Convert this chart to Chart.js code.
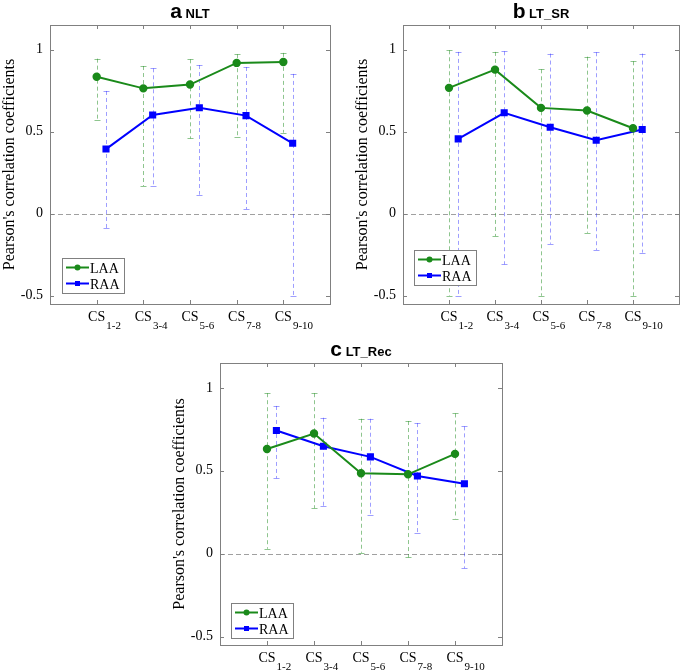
<!DOCTYPE html>
<html>
<head>
<meta charset="utf-8">
<script src="https://cdn.jsdelivr.net/npm/chart.js@4.4.1/dist/chart.umd.min.js"></script>
<style>
  html, body { margin: 0; padding: 0; background: #fff; overflow: hidden; }
  body { width: 685px; height: 672px; position: relative; }
  canvas { position: absolute; }
</style>
</head>
<body>
<canvas id="chartA" width="340" height="335" style="left:0;top:0"></canvas>
<canvas id="chartB" width="332" height="335" style="left:353px;top:0"></canvas>
<canvas id="chartC" width="340" height="342" style="left:170px;top:330px"></canvas>
<script>
// x categories (CS pairs) and y ticks
const categories = ['1-2', '3-4', '5-6', '7-8', '9-10'];
const yTicks = [-0.5, 0, 0.5, 1];

// a NLT
const nltLAA = [0.835, 0.764, 0.787, 0.919, 0.925];
const nltLAALow = [0.571, 0.169, 0.459, 0.467, 0.494];
const nltLAAHigh = [0.945, 0.900, 0.941, 0.972, 0.980];
const nltRAA = [0.394, 0.602, 0.646, 0.598, 0.429];
const nltRAALow = [-0.087, 0.169, 0.116, 0.028, -0.502];
const nltRAAHigh = [0.748, 0.886, 0.906, 0.894, 0.852];

// b LT_SR
const srLAA = [0.767, 0.878, 0.645, 0.629, 0.521];
const srLAALow = [-0.50, -0.136, -0.50, -0.116, -0.50];
const srLAAHigh = [0.996, 0.986, 0.880, 0.957, 0.929];
const srRAA = [0.456, 0.615, 0.527, 0.448, 0.513];
const srRAALow = [-0.50, -0.308, -0.183, -0.221, -0.237];
const srRAAHigh = [0.986, 0.990, 0.976, 0.984, 0.976];

// c LT_Rec
const recLAA = [0.632, 0.725, 0.485, 0.479, 0.602];
const recLAALow = [0.030, 0.275, 0.006, -0.022, 0.212];
const recLAAHigh = [0.968, 0.968, 0.814, 0.800, 0.846];
const recRAA = [0.743, 0.648, 0.584, 0.469, 0.422];
const recRAALow = [0.455, 0.285, 0.232, 0.127, -0.087];
const recRAAHigh = [0.891, 0.820, 0.814, 0.788, 0.768];

const GREEN = '#1a8a1a';
const BLUE = '#0000ff';
const GREEN_ERR = 'rgba(30,140,30,0.5)';
const BLUE_ERR = 'rgba(40,40,255,0.45)';
const RAA_SHIFT = 0.2;
const SERIF = '"Liberation Serif", "Times New Roman", serif';
const SANS = '"Liberation Sans", Arial, sans-serif';

// draws box, inward ticks, zero line, error bars, CS labels, title and legend
const panelPlugin = {
  id: 'panel',
  beforeDatasetsDraw(chart, args, opts) {
    const ctx = chart.ctx;
    const ca = chart.chartArea;
    const xs = chart.scales.x, ys = chart.scales.y;
    ctx.save();
    // zero line
    ctx.strokeStyle = '#a0a0a0';
    ctx.lineWidth = 1;
    ctx.setLineDash([5, 3]);
    const y0 = Math.round(ys.getPixelForValue(0)) + 0.5;
    ctx.beginPath();
    ctx.moveTo(ca.left, y0);
    ctx.lineTo(ca.right, y0);
    ctx.stroke();
    // error bars
    const bars = [
      [opts.laaLow, opts.laaHigh, 0, GREEN_ERR],
      [opts.raaLow, opts.raaHigh, RAA_SHIFT, BLUE_ERR]
    ];
    bars.forEach(([lo, hi, shift, col]) => {
      ctx.strokeStyle = col;
      lo.forEach((l, i) => {
        const x = Math.round(xs.getPixelForValue(i + 1 + shift)) + 0.5;
        const yl = ys.getPixelForValue(l);
        const yh = ys.getPixelForValue(hi[i]);
        ctx.setLineDash([4, 3]);
        ctx.beginPath();
        ctx.moveTo(x, yh);
        ctx.lineTo(x, yl);
        ctx.stroke();
        ctx.setLineDash([]);
        ctx.beginPath();
        ctx.moveTo(x - 3, Math.round(yh) + 0.5);
        ctx.lineTo(x + 3, Math.round(yh) + 0.5);
        ctx.moveTo(x - 3, Math.round(yl) + 0.5);
        ctx.lineTo(x + 3, Math.round(yl) + 0.5);
        ctx.stroke();
      });
    });
    ctx.restore();
  },
  afterDraw(chart, args, opts) {
    const ctx = chart.ctx;
    const ca = chart.chartArea;
    const xs = chart.scales.x, ys = chart.scales.y;
    ctx.save();
    // box
    ctx.strokeStyle = '#808080';
    ctx.lineWidth = 1;
    ctx.setLineDash([]);
    ctx.strokeRect(Math.round(ca.left) + 0.5, Math.round(ca.top) + 0.5,
      Math.round(ca.right - ca.left), Math.round(ca.bottom - ca.top));
    ctx.beginPath();
    yTicks.forEach(v => {
      const y = Math.round(ys.getPixelForValue(v)) + 0.5;
      ctx.moveTo(ca.left, y); ctx.lineTo(ca.left + 4, y);
      ctx.moveTo(ca.right, y); ctx.lineTo(ca.right - 4, y);
    });
    categories.forEach((c, i) => {
      const x = Math.round(xs.getPixelForValue(i + 1)) + 0.5;
      ctx.moveTo(x, ca.bottom); ctx.lineTo(x, ca.bottom - 4);
      ctx.moveTo(x, ca.top); ctx.lineTo(x, ca.top + 4);
    });
    ctx.stroke();

    // CS labels with subscripts
    ctx.fillStyle = '#000';
    ctx.textAlign = 'left';
    ctx.textBaseline = 'alphabetic';
    categories.forEach((c, i) => {
      const x = xs.getPixelForValue(i + 1);
      ctx.font = '14px ' + SERIF;
      const w = ctx.measureText('CS').width;
      ctx.fillText('CS', x - w / 2, ca.bottom + 17);
      ctx.font = '11px ' + SERIF;
      ctx.fillText(c, x + w / 2 + 1, ca.bottom + 25);
    });

    // title
    ctx.font = 'bold 21px ' + SANS;
    const w1 = ctx.measureText(opts.letter).width;
    ctx.font = 'bold 13px ' + SANS;
    const w2 = ctx.measureText(' ' + opts.name).width;
    const tx = (ca.left + ca.right) / 2 - (w1 + w2) / 2;
    const ty = ca.top - 7;
    ctx.font = 'bold 21px ' + SANS;
    ctx.fillText(opts.letter, tx, ty);
    ctx.font = 'bold 13px ' + SANS;
    ctx.fillText(' ' + opts.name, tx + w1, ty);

    // legend
    const lx = ca.left + opts.legendX;
    const ly = ca.bottom - opts.legendY - 35;
    ctx.fillStyle = '#fff';
    ctx.fillRect(lx, ly, 62, 35);
    ctx.strokeStyle = '#808080';
    ctx.strokeRect(Math.round(lx) + 0.5, Math.round(ly) + 0.5, 62, 35);
    chart.data.datasets.forEach((ds, k) => {
      const ry = ly + 9.5 + k * 16;
      ctx.strokeStyle = ds.borderColor;
      ctx.lineWidth = 2;
      ctx.beginPath();
      ctx.moveTo(lx + 4, ry);
      ctx.lineTo(lx + 27, ry);
      ctx.stroke();
      ctx.fillStyle = ds.borderColor;
      ctx.beginPath();
      if (ds.pointStyle === 'circle') {
        ctx.arc(lx + 15.5, ry, 3, 0, Math.PI * 2);
      } else {
        ctx.rect(lx + 13, ry - 2.5, 5, 5);
      }
      ctx.fill();
      ctx.fillStyle = '#000';
      ctx.font = '14px ' + SERIF;
      ctx.fillText(ds.label, lx + 28, ry + 5);
    });
    ctx.restore();
  }
};

function makePanel(id, letter, name, laa, laaLow, laaHigh, raa, raaLow, raaHigh, pad, xHeight, legendX, legendY) {
  return new Chart(document.getElementById(id), {
    type: 'line',
    data: {
      datasets: [{
        label: 'LAA',
        data: laa.map((v, i) => ({ x: i + 1, y: v })),
        borderColor: GREEN,
        backgroundColor: GREEN,
        borderWidth: 2,
        pointStyle: 'circle',
        pointRadius: 3.2,
        tension: 0
      }, {
        label: 'RAA',
        data: raa.map((v, i) => ({ x: i + 1 + RAA_SHIFT, y: v })),
        borderColor: BLUE,
        backgroundColor: BLUE,
        borderWidth: 2,
        pointStyle: 'rect',
        pointRadius: 3.6,
        tension: 0
      }]
    },
    options: {
      responsive: false,
      animation: false,
      devicePixelRatio: 1,
      layout: { padding: { top: pad.top, right: pad.right, left: 0, bottom: 0 } },
      plugins: {
        legend: { display: false },
        tooltip: { enabled: false },
        panel: { letter, name, laaLow, laaHigh, raaLow, raaHigh, legendX, legendY }
      },
      scales: {
        x: {
          type: 'linear',
          min: 0,
          max: 6,
          grid: { display: false, drawTicks: false },
          border: { display: false },
          ticks: { display: false },
          afterBuildTicks: axis => { axis.ticks = categories.map((c, i) => ({ value: i + 1 })); },
          afterFit: axis => { axis.height = xHeight; }
        },
        y: {
          min: -0.55,
          max: 1.15,
          grid: { display: false, drawTicks: false },
          border: { display: false },
          afterBuildTicks: axis => { axis.ticks = yTicks.map(v => ({ value: v })); },
          ticks: {
            color: '#000',
            padding: 7,
            font: { family: SERIF, size: 14 },
            callback: v => String(v)
          },
          title: {
            display: true,
            text: "Pearson's correlation coefficients",
            color: '#000',
            font: { family: SERIF, size: 16 },
            padding: { top: 0, bottom: 0 }
          },
          afterFit: axis => { axis.width = 50; }
        }
      }
    },
    plugins: [panelPlugin]
  });
}

makePanel('chartA', 'a', 'NLT', nltLAA, nltLAALow, nltLAAHigh, nltRAA, nltRAALow, nltRAAHigh,
  { top: 25, right: 10 }, 31, 12, 11);
makePanel('chartB', 'b', 'LT_SR', srLAA, srLAALow, srLAAHigh, srRAA, srRAALow, srRAAHigh,
  { top: 25, right: 2 }, 31, 11, 19);
makePanel('chartC', 'c', 'LT_Rec', recLAA, recLAALow, recLAAHigh, recRAA, recRAALow, recRAAHigh,
  { top: 33, right: 8 }, 27, 11, 7);
</script>
</body>
</html>
